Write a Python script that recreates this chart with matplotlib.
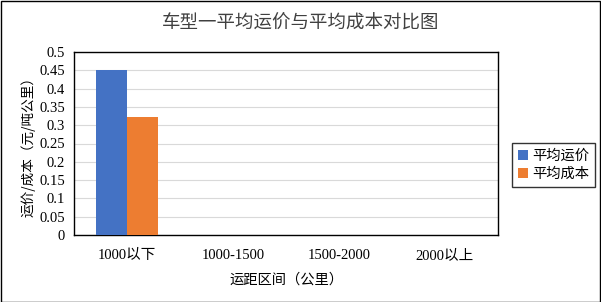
import matplotlib
matplotlib.use("Agg")
import matplotlib.pyplot as plt
import numpy as np
from matplotlib.patches import Rectangle

categories = ["1000以下", "1000-1500", "1500-2000", "2000以上"]
avg_price = [0.45, 0, 0, 0]
avg_cost = [0.322, 0, 0, 0]
series_names = ["平均运价", "平均成本"]
yticks = [0, 0.05, 0.1, 0.15, 0.2, 0.25, 0.3, 0.35, 0.4, 0.45, 0.5]
ytick_labels = ["0", "0.05", "0.1", "0.15", "0.2", "0.25", "0.3", "0.35", "0.4", "0.45", "0.5"]

fam = ["Liberation Serif", "Noto Sans CJK SC"]
cjk = ["Noto Sans CJK SC", "DejaVu Sans"]

fig = plt.figure(figsize=(6.01, 3.02), dpi=100)
fig.patch.set_facecolor("white")
fig.add_artist(Rectangle((0.5/601, 0.5/302), 1 - 1.5/601, 1 - 1.5/302, transform=fig.transFigure,
                         fill=False, edgecolor="black", linewidth=1))

ax = fig.add_axes([74/601, 1 - 235/302, 424/601, 183/302])
x = np.arange(len(categories))
w = 0.29
ax.bar(x - w/2, avg_price, w, color="#4472C4", label=series_names[0], zorder=3)
ax.bar(x + w/2, avg_cost, w, color="#ED7D31", label=series_names[1], zorder=3)
ax.set_xlim(-0.5, len(categories) - 0.5)
ax.set_ylim(0, 0.5)
ax.set_yticks(yticks)
ax.set_yticklabels(ytick_labels, fontfamily=fam, fontsize=10.5)
ax.set_xticks(x)
ax.set_xticklabels(categories, fontfamily=fam, fontsize=10.5)
ax.tick_params(length=0)
ax.tick_params(axis="x", pad=10)
ax.tick_params(axis="y", pad=6.5)
ax.grid(axis="y", color="#D9D9D9", linewidth=0.8, zorder=0)
for s in ax.spines.values():
    s.set_color("black")
    s.set_linewidth(1)

ax.set_xlabel("运距区间（公里）", fontfamily=cjk, fontsize=10.3, labelpad=8)
ax.set_ylabel("运价/成本（元/吨公里）", fontfamily=cjk, fontsize=9.8, labelpad=2.5)
fig.text(0.5, 1 - 24/302, "车型一平均运价与平均成本对比图", ha="center", va="center",
         fontfamily=cjk, fontsize=13.3, color="#404040")

leg = fig.legend(loc="center left", bbox_to_anchor=(512/601, 1 - 165/302),
                 prop={"family": cjk, "size": 10.3}, frameon=True, fancybox=False,
                 edgecolor="black", handlelength=0.7, handleheight=0.7, handletextpad=0.3,
                 borderpad=0.4, labelspacing=0.3, borderaxespad=0)
leg.get_frame().set_linewidth(1)

fig.savefig("out.png", dpi=100, facecolor="white")
